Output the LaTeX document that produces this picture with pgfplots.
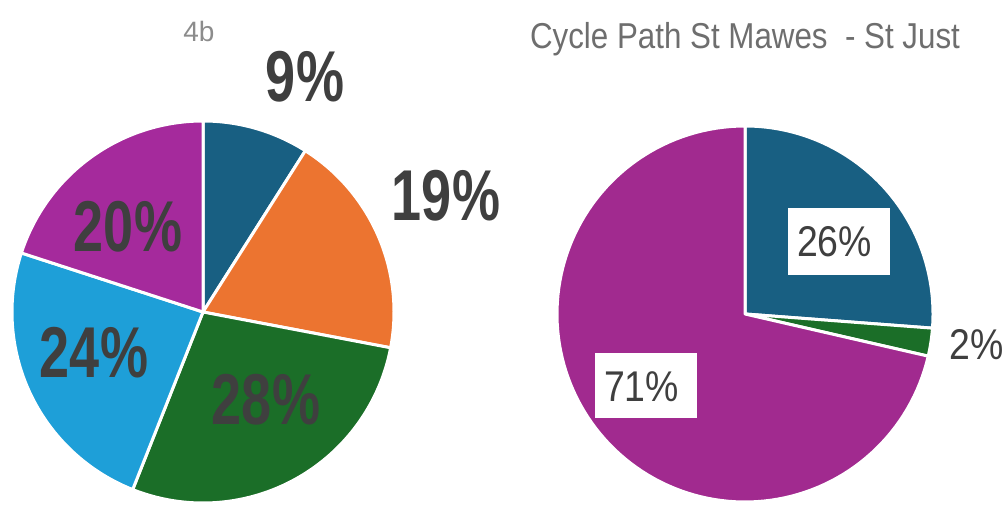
\documentclass[border=0pt]{standalone}
\usepackage{pgfplots}
\pgfplotsset{compat=1.18}
\usepackage{fontspec}
\setmainfont{Liberation Sans}
\newfontfamily\boldlab[FakeStretch=0.75]{Liberation Sans}
\newfontfamily\reglab[FakeStretch=0.87]{Liberation Sans}
\definecolor{cblue}{HTML}{185F82}
\definecolor{corange}{HTML}{EC7430}
\definecolor{cgreen}{HTML}{1B6E28}
\definecolor{clblue}{HTML}{1E9FD8}
\definecolor{cpurpleL}{HTML}{A52A9C}
\definecolor{cpurpleR}{HTML}{A12A8F}
\definecolor{labgray}{HTML}{3F3F3F}
\definecolor{titlegray}{HTML}{6E6E6E}
% slice: centre x, centre y, radius, start (cumulative %), value (%), colour
\newcommand{\pieslice}[6]{%
  \addplot[fill=#6, draw=white, line width=3pt, line join=round,
    domain={90-3.6*(#4+#5)}:{90-3.6*(#4)}, samples=120, variable=\t]
    ({#1+#3*cos(\t)},{#2+#3*sin(\t)}) -- (axis cs:#1,#2) -- cycle;}
\begin{document}
\begin{tikzpicture}
\begin{axis}[
  scale only axis, width=1008pt, height=505pt,
  xmin=0, xmax=1008, ymin=0, ymax=505,
  hide axis, clip=false]
\path (rel axis cs:0,0) rectangle (rel axis cs:1,1);
% ---- left pie (4b): 9, 19, 28, 24, 20 %
\pieslice{203}{193}{191}{0}{9}{cblue}
\pieslice{203}{193}{191}{9}{19}{corange}
\pieslice{203}{193}{191}{28}{28}{cgreen}
\pieslice{203}{193}{191}{56}{24}{clblue}
\pieslice{203}{193}{191}{80}{20}{cpurpleL}
% ---- right pie: 26, 2, 71 %
\pieslice{745}{191}{188}{0}{26.2}{cblue}
\pieslice{745}{191}{188}{26.2}{2.4}{cgreen}
\pieslice{745}{191}{188}{28.6}{71.4}{cpurpleR}
% titles
\node[anchor=base, text=gray!90, font=\fontsize{28}{28}\selectfont] at (axis cs:199,463) {4b};
\node[anchor=base, text=titlegray, font=\reglab\fontsize{36}{36}\selectfont] at (axis cs:745,456) {Cycle Path St Mawes\ \ - St Just};
% left labels
\begin{scope}[every node/.style={anchor=base, text=labgray, font=\boldlab\bfseries\fontsize{72}{72}\selectfont}]
\node at (axis cs:305,403) {9\%};
\node at (axis cs:446,284) {19\%};
\node at (axis cs:128,253) {20\%};
\node at (axis cs:94,127) {24\%};
\node at (axis cs:266,80) {28\%};
\end{scope}
% right labels
\node[fill=white, minimum width=102pt, minimum height=67pt, inner sep=0pt] at (axis cs:839,263.5) {};
\node[fill=white, minimum width=102pt, minimum height=65pt, inner sep=0pt] at (axis cs:646,119.5) {};
\begin{scope}[every node/.style={anchor=base, text=labgray, font=\reglab\fontsize{43}{43}\selectfont}]
\node at (axis cs:834.5,248) {26\%};
\node at (axis cs:641.5,103) {71\%};
\node at (axis cs:977,145) {2\%};
\end{scope}
\end{axis}
\end{tikzpicture}
\end{document}
